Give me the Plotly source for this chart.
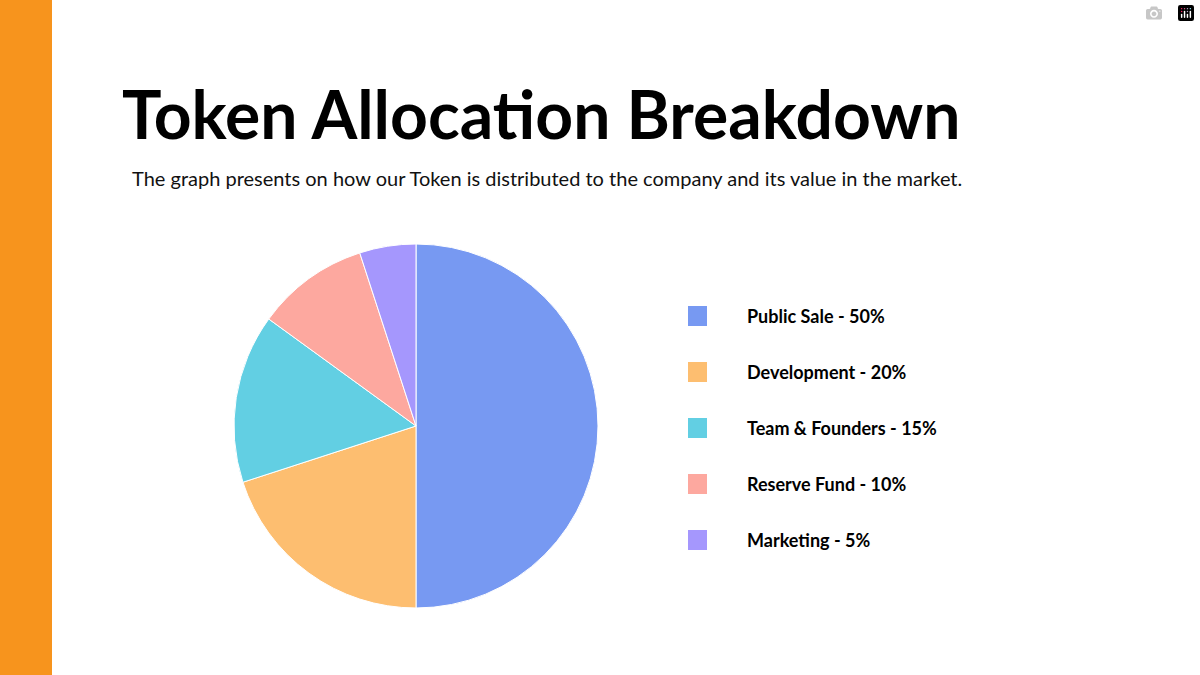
import plotly.graph_objects as go

labels = ["Public Sale", "Development", "Team & Founders", "Reserve Fund", "Marketing"]
values = [50, 20, 15, 10, 5]
colors = ["#7799F2", "#FDBE70", "#62CFE3", "#FDA89F", "#A597FD"]

W, H = 1200, 675
fig = go.Figure(go.Pie(
    labels=labels, values=values, sort=False, direction="clockwise", rotation=0,
    marker=dict(colors=colors, line=dict(color="white", width=1)),
    textinfo="none", hoverinfo="label+percent", showlegend=False,
    domain=dict(x=[(416-182)/W, (416+182)/W], y=[(249-182)/H, (249+182)/H]),
))

shapes = [dict(type="rect", xref="paper", yref="paper", x0=0, x1=52/W, y0=0, y1=1,
               fillcolor="#F7941D", line=dict(width=0), layer="below")]
annotations = [
    dict(text="<b>Token Allocation Breakdown</b>", x=120/W, y=1-113/H, xref="paper", yref="paper",
         xanchor="left", yanchor="middle", showarrow=False,
         font=dict(family="Lato", size=66, color="#000")),
    dict(text="The graph presents on how our Token is distributed to the company and its value in the market.",
         x=130/W, y=1-178/H, xref="paper", yref="paper", xanchor="left", yanchor="middle",
         showarrow=False, font=dict(family="Lato", size=20, color="#111")),
]
for i, (lab, v, c) in enumerate(zip(labels, values, colors)):
    yc = 316 + i * 56
    shapes.append(dict(type="rect", xref="paper", yref="paper",
                       x0=688/W, x1=707/W, y0=1-(yc+10)/H, y1=1-(yc-10)/H,
                       fillcolor=c, line=dict(width=0)))
    annotations.append(dict(text=f"<b>{lab} - {v}%</b>", x=745/W, y=1-yc/H, xref="paper", yref="paper",
                            xanchor="left", yanchor="middle", showarrow=False,
                            font=dict(family="Lato", size=18, color="#000")))

fig.update_layout(width=W, height=H, margin=dict(l=0, r=0, t=0, b=0),
                  paper_bgcolor="white", plot_bgcolor="white",
                  shapes=shapes, annotations=annotations)
fig.write_html("out.html", post_script="document.body.style.margin='0';")
